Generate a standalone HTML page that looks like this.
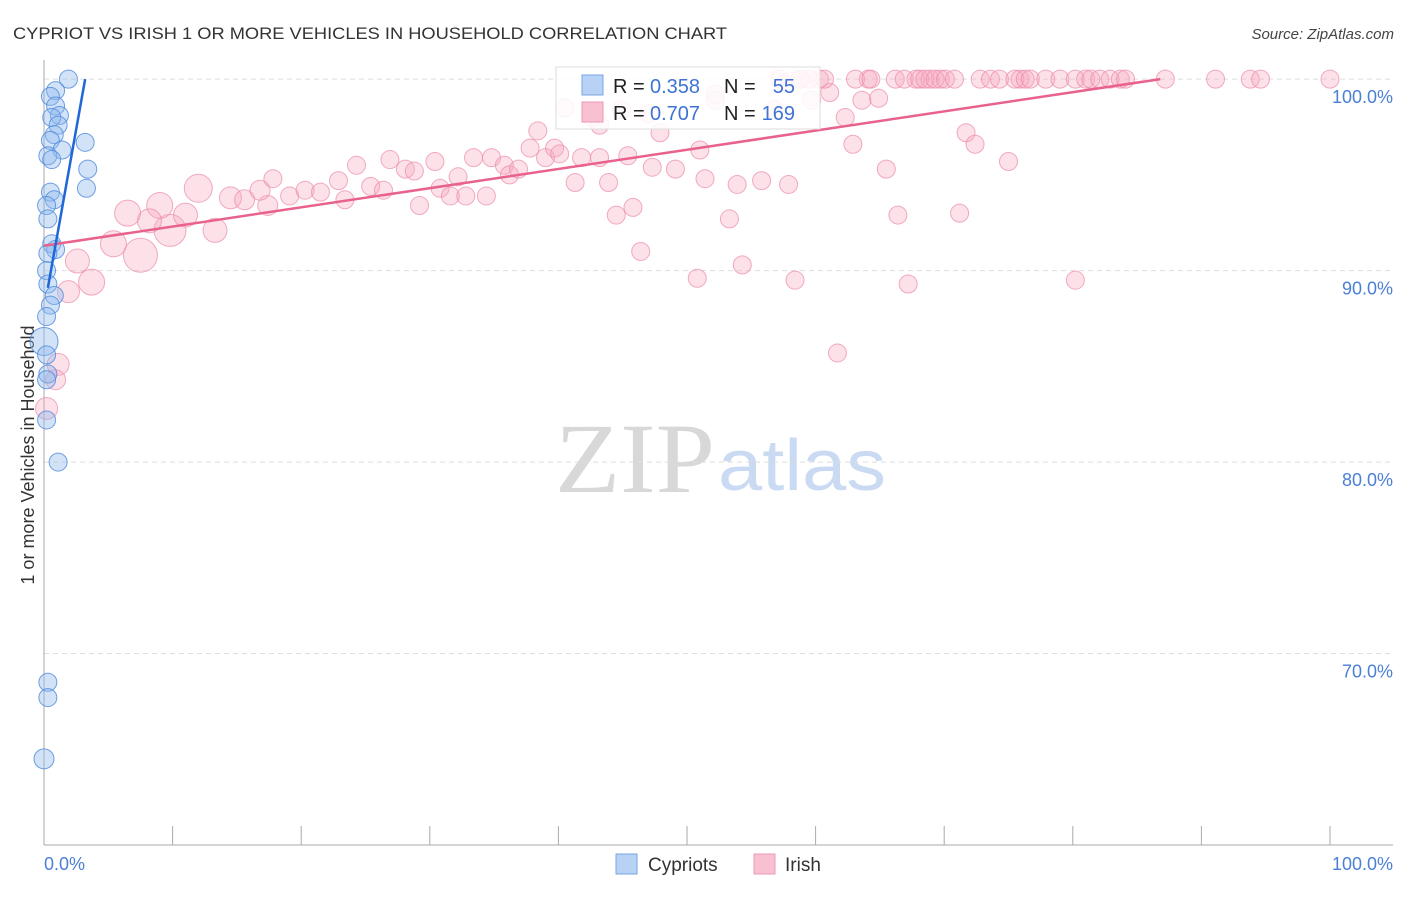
<!DOCTYPE html>
<html><head><meta charset="utf-8"><style>
body{margin:0;background:#fff;font-family:"Liberation Sans",sans-serif}
</style></head><body>
<svg id="chart" width="1406" height="892" xmlns="http://www.w3.org/2000/svg" font-family="Liberation Sans, sans-serif">
<text x="13" y="39" font-size="17" fill="#333" textLength="714" lengthAdjust="spacingAndGlyphs">CYPRIOT VS IRISH 1 OR MORE VEHICLES IN HOUSEHOLD CORRELATION CHART</text>
<text x="1394" y="39" font-size="15" fill="#444" text-anchor="end" font-style="italic">Source: ZipAtlas.com</text>
<text transform="translate(34,455) rotate(-90)" font-size="18" fill="#333" text-anchor="middle">1 or more Vehicles in Household</text>
<g>
<text x="555" y="492" font-size="100" font-family="Liberation Serif, serif" fill="#d8d8d8" textLength="160" lengthAdjust="spacingAndGlyphs">ZIP</text>
<text x="718" y="490" font-size="72" fill="#c9daf2" textLength="168" lengthAdjust="spacingAndGlyphs">atlas</text>
</g>
<g id="grid"></g><g id="axes"></g><g id="pink"></g><g id="blue"></g><g id="lines"></g>
<g>
<rect x="556" y="67" width="264" height="62" fill="#fff" fill-opacity="0.85" stroke="#ddd"/>
<rect x="582" y="75" width="21" height="20" fill="#b8d2f5" stroke="#7aa6e6"/>
<rect x="582" y="102" width="21" height="20" fill="#f8c0d0" stroke="#ee9ab2"/>
<text x="613" y="93" font-size="20" fill="#222">R =</text>
<text x="650" y="93" font-size="20" fill="#3d73d4">0.358</text>
<text x="724" y="93" font-size="20" fill="#222">N =</text>
<text x="795" y="93" font-size="20" fill="#3d73d4" text-anchor="end">55</text>
<text x="613" y="120" font-size="20" fill="#222">R =</text>
<text x="650" y="120" font-size="20" fill="#3d73d4">0.707</text>
<text x="724" y="120" font-size="20" fill="#222">N =</text>
<text x="795" y="120" font-size="20" fill="#3d73d4" text-anchor="end">169</text>
</g>
<g>
<rect x="616" y="854" width="21" height="20" fill="#b8d2f5" stroke="#7aa6e6"/>
<text x="648" y="871" font-size="19" fill="#333">Cypriots</text>
<rect x="754" y="854" width="21" height="20" fill="#f8c0d0" stroke="#ee9ab2"/>
<text x="785" y="871" font-size="19" fill="#333">Irish</text>
</g>
</svg>
<script>
const yTicks=[100,90,80,70];
const yTickLabels=["100.0%","90.0%","80.0%","70.0%"];
const xTicks=[0,10,20,30,40,50,60,70,80,90,100];
const blueX=[1.9,0.9,0.5,0.9,1.2,0.6,1.1,0.8,0.5,1.4,0.3,0.6,3.2,3.4,3.3,0.5,0.8,0.2,0.3,0.6,0.9,0.3,0.2,0.3,0.8,0.5,0.2,0,0.2,0.3,0.2,0.2,1.1,0.3,0.3,0];
const blueY=[100,99.4,99.1,98.6,98.1,98,97.6,97.1,96.8,96.3,96,95.8,96.7,95.3,94.3,94.1,93.7,93.4,92.7,91.4,91.1,90.9,90,89.3,88.7,88.2,87.6,86.3,85.6,84.6,84.3,82.2,80,68.5,67.7,64.5];
const blueS=[9,9,9,9,9,9,9,9,9,9,9,9,9,9,9,9,9,9,9,9,9,9,9,9,9,9,9,14,9,9,9,9,9,9,9,10];
const pinkX=[7.5,9.8,12.0,13.3,6.5,9.0,5.4,3.7,2.6,1.9,1.1,0.9,0.2,11.0,8.2,14.5,15.6,17.4,16.8,
17.8,19.1,20.3,21.5,22.9,23.4,24.3,25.4,26.4,26.9,28.1,28.8,29.2,30.4,30.8,31.6,32.2,32.8,33.4,34.4,34.8,35.8,36.2,36.9,37.8,38.4,39.0,39.7,40.1,41.3,41.8,42.6,43.2,43.9,44.5,44.9,45.4,45.8,46.4,47.0,47.3,47.9,49.1,50.8,51.0,51.4,52.2,53.3,53.9,54.3,55.8,56.8,57.9,58.4,59.7,60.3,61.1,61.7,62.3,62.9,63.6,64.1,64.9,65.5,66.4,67.2,67.8,68.9,69.7,71.2,71.7,72.4,75.0,75.9,80.2,
57.2,58.8,59.5,60.7,63.1,64.3,66.2,66.9,68.1,68.5,69.3,70.1,70.8,72.8,73.6,74.3,75.5,76.3,76.7,77.9,79.0,80.2,81.0,81.4,82.1,82.9,83.7,84.1,87.2,91.1,93.8,94.6,100,40.5,43.2,52.2,57.6,58.8];
const pinkY=[90.8,92.1,94.3,92.1,93.0,93.4,91.4,89.4,90.5,88.9,85.1,84.3,82.8,92.9,92.6,93.8,93.7,93.4,94.2,
94.8,93.9,94.2,94.1,94.7,93.7,95.5,94.4,94.2,95.8,95.3,95.2,93.4,95.7,94.3,93.9,94.9,93.9,95.9,93.9,95.9,95.5,95.0,95.3,96.4,97.3,95.9,96.4,96.1,94.6,95.9,98.0,95.9,94.6,92.9,98.4,96.0,93.3,91.0,98.2,95.4,97.2,95.3,89.6,96.3,94.8,98.9,92.7,94.5,90.3,94.7,98.4,94.5,89.5,98.9,100,99.3,85.7,98.0,96.6,98.9,100,99.0,95.3,92.9,89.3,100,100,100,93.0,97.2,96.6,95.7,100,89.5,
100,100,100,100,100,100,100,100,100,100,100,100,100,100,100,100,100,100,100,100,100,100,100,100,100,100,100,100,100,100,100,100,100,98.5,97.6,99.2,99.8,100];
const pinkS=[17,16,14,12,13,13,13,13,12,11,11,10,11,12,12,11,10,10,10];
const blueLine=[[0.3,89.1],[3.2,100]];
const pinkLine=[[0,91.3],[86.8,100]];
const L=44,R=1393,T=60,B=845,XMIN=0,XMAX=104.9,YMIN=60,YMAX=101;
const sx=v=>L+(v-XMIN)/(XMAX-XMIN)*(R-L);
const sy=v=>B-(v-YMIN)/(YMAX-YMIN)*(B-T);
const NS="http://www.w3.org/2000/svg";
function mk(tag,attrs,parent){const e=document.createElementNS(NS,tag);for(const k in attrs)e.setAttribute(k,attrs[k]);parent.appendChild(e);return e;}
const grid=document.getElementById('grid'),axes=document.getElementById('axes');
yTicks.forEach((t,i)=>{
 const g=mk('line',{x1:L,x2:R,y1:sy(t),y2:sy(t),stroke:'#ddd','stroke-dasharray':'5,4'},grid);
 
 
 const tx=mk('text',{x:1393,y:sy(t)+24,'font-size':18,fill:'#4a7fd6','text-anchor':'end'},axes);
 tx.textContent=yTickLabels[i];
 
 
});
const ya=mk('line',{x1:L,x2:L,y1:T,y2:B,stroke:'#aaa'},axes);


const xa=mk('line',{x1:L,x2:R,y1:B,y2:B,stroke:'#aaa'},axes);


xTicks.forEach(t=>{
 const tk=mk('line',{x1:sx(t),x2:sx(t),y1:826,y2:B,stroke:'#aaa'},axes);
 
 
});
const xl0=mk('text',{x:44,y:870,'font-size':18,fill:'#4a7fd6'},axes);xl0.textContent='0.0%';


const xl1=mk('text',{x:1393,y:870,'font-size':18,fill:'#4a7fd6','text-anchor':'end'},axes);xl1.textContent='100.0%';


const pg=document.getElementById('pink');
pinkX.forEach((x,i)=>{
 const c=mk('circle',{cx:sx(x),cy:sy(pinkY[i]),r:pinkS[i]||9,fill:'#f7a8bf','fill-opacity':0.35,stroke:'#ec89a8','stroke-opacity':0.7,'stroke-width':1},pg);
 
 
});
const bg=document.getElementById('blue');
blueX.forEach((x,i)=>{
 const c=mk('circle',{cx:sx(x),cy:sy(blueY[i]),r:blueS[i],fill:'#8fb8ee','fill-opacity':0.4,stroke:'#4f88db','stroke-opacity':0.8,'stroke-width':1},bg);
 
 
});
const lg=document.getElementById('lines');
const pl=mk('line',{x1:sx(pinkLine[0][0]),y1:sy(pinkLine[0][1]),x2:sx(pinkLine[1][0]),y2:sy(pinkLine[1][1]),stroke:'#e8628c','stroke-width':2.5},lg);


const bl=mk('line',{x1:sx(blueLine[0][0]),y1:sy(blueLine[0][1]),x2:sx(blueLine[1][0]),y2:sy(blueLine[1][1]),stroke:'#1f66d6','stroke-width':2.5},lg);


</script>
</body></html>
